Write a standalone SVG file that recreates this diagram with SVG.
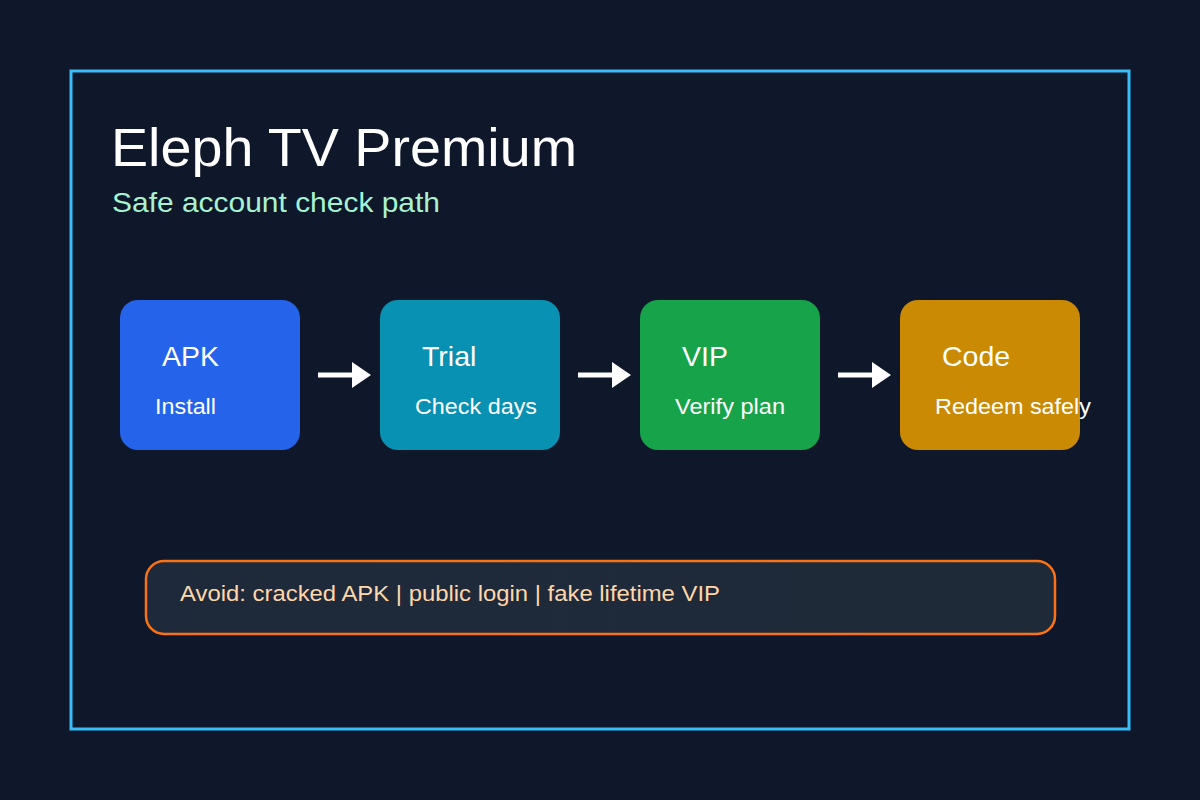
<svg xmlns="http://www.w3.org/2000/svg" width="1200" height="800" viewBox="0 0 1200 800">
<defs>
<style>
text{font-family:"Liberation Sans",Arial,sans-serif}
.t{fill:#fff;font-size:28.5px}
.s{fill:#fff;font-size:21.5px}
.c{stroke:#fff;stroke-width:5}
</style>
<marker id="ah" markerUnits="userSpaceOnUse" markerWidth="20" markerHeight="26" refX="0" refY="13" orient="auto"><path d="M0,0 L19,13 L0,26 Z" fill="#fff"/></marker>
<linearGradient id="g" x1="0" x2="1"><stop offset="0" stop-color="#1e293b"/><stop offset="1" stop-color="#1f2a38"/></linearGradient>
</defs>
<rect width="1200" height="800" fill="#0f172a"/>
<rect x="71" y="71" width="1058" height="658" fill="none" stroke="#38bdf8" stroke-width="3"/>
<text x="111" y="166" fill="#fff" font-size="53" textLength="466" lengthAdjust="spacingAndGlyphs">Eleph TV Premium</text>
<text x="112" y="212" fill="#a7f3d0" font-size="28.5" textLength="328" lengthAdjust="spacingAndGlyphs">Safe account check path</text>
<g id="n1"><rect x="120" y="300" width="180" height="150" rx="18" fill="#2563eb"/><text class="t" x="162" y="366">APK</text><text class="s" x="155" y="414" textLength="61" lengthAdjust="spacingAndGlyphs">Install</text></g>
<g id="n2"><rect x="380" y="300" width="180" height="150" rx="18" fill="#0891b2"/><text class="t" x="422" y="366">Trial</text><text class="s" x="415" y="414" textLength="122" lengthAdjust="spacingAndGlyphs">Check days</text></g>
<g id="n3"><rect x="640" y="300" width="180" height="150" rx="18" fill="#16a34a"/><text class="t" x="682" y="366">VIP</text><text class="s" x="675" y="414" textLength="110" lengthAdjust="spacingAndGlyphs">Verify plan</text></g>
<g id="n4"><rect x="900" y="300" width="180" height="150" rx="18" fill="#ca8a04"/><text class="t" x="942" y="366">Code</text><text class="s" x="935" y="414" textLength="156" lengthAdjust="spacingAndGlyphs">Redeem safely</text></g>
<g id="connectors">
<line class="c" x1="318" y1="375" x2="352" y2="375" marker-end="url(#ah)"/>
<line class="c" x1="578" y1="375" x2="612" y2="375" marker-end="url(#ah)"/>
<line class="c" x1="838" y1="375" x2="872" y2="375" marker-end="url(#ah)"/>
</g>
<g id="note"><rect x="146" y="561" width="909" height="73" rx="18" fill="url(#g)" stroke="#f97316" stroke-width="2.5"/>
<text x="180" y="601" fill="#fed7aa" font-size="22.5" textLength="540" lengthAdjust="spacingAndGlyphs">Avoid: cracked APK | public login | fake lifetime VIP</text></g>
</svg>
